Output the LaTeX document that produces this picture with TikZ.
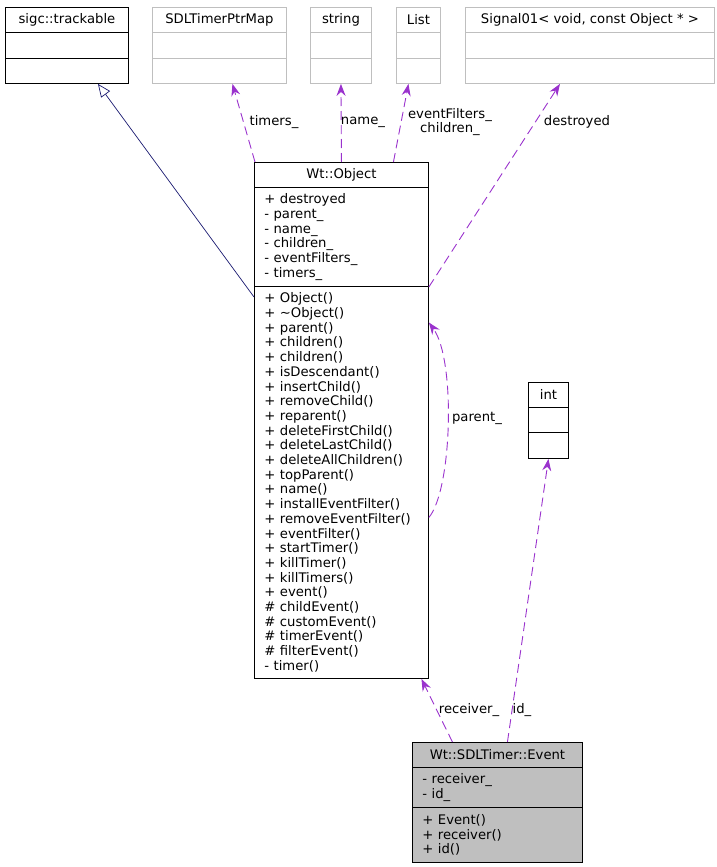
\documentclass[tikz,border=0pt]{standalone}
\usepackage{fontspec}
\setmainfont{DejaVu Sans}
\usetikzlibrary{arrows.meta}
\definecolor{usepurple}{HTML}{9A32CD}
\definecolor{basenavy}{HTML}{191970}
\definecolor{boxgray}{HTML}{BFBFBF}
\newcommand{\umlfont}{\fontsize{13.2}{14.7}\selectfont}

\begin{document}
\begin{tikzpicture}[x=1pt,y=-1pt,line width=0.9pt,
    every node/.style={font=\umlfont,inner sep=0pt},
    part/.style={draw,rectangle,anchor=north west,minimum width=#1},
    title/.style={part=#1,minimum height=25},
    members/.style={align=left,text width=#1,inner xsep=10pt},
    lbl/.style={anchor=center},
    use/.style={usepurple,dash pattern=on 9pt off 5pt,-{Stealth[length=12pt,width=9pt,inset=4pt]}},
    inherit/.style={basenavy,line width=0.7pt,-{Triangle[open,length=13pt,width=11pt,fill=white]}}]
    \useasboundingbox (0,0) rectangle (717,867);

    \node (trackable)     at (5,7)    [title=123] {sigc::trackable};
    \node (trackableattr) at (5,32)   [part=123,minimum height=26] {};
    \node (trackableops)  at (5,58)   [part=123,minimum height=25] {};

    \node (ptrmap)        at (152,7)  [title=134,draw=boxgray] {SDLTimerPtrMap};
    \node (ptrmapattr)    at (152,32) [part=134,minimum height=26,draw=boxgray] {};
    \node (ptrmapops)     at (152,58) [part=134,minimum height=25,draw=boxgray] {};

    \node (string)        at (310,7)  [title=61,draw=boxgray] {string};
    \node (stringattr)    at (310,32) [part=61,minimum height=26,draw=boxgray] {};
    \node (stringops)     at (310,58) [part=61,minimum height=25,draw=boxgray] {};

    \node (list)          at (396,7)  [title=44,draw=boxgray] {List};
    \node (listattr)      at (396,32) [part=44,minimum height=26,draw=boxgray] {};
    \node (listops)       at (396,58) [part=44,minimum height=25,draw=boxgray] {};

    \node (signal)        at (465,7)  [title=249,draw=boxgray] {Signal01< void, const Object * >};
    \node (signalattr)    at (465,32) [part=249,minimum height=26,draw=boxgray] {};
    \node (signalops)     at (465,58) [part=249,minimum height=25,draw=boxgray] {};

    \node (int)           at (528,382) [title=40] {int};
    \node (intattr)       at (528,407) [part=40,minimum height=25] {};
    \node (intops)        at (528,432) [part=40,minimum height=26] {};

    \node (object)        at (254,162) [title=174] {Wt::Object};
    \node (objectattr)    at (254,187) [part=174,minimum height=99,members=154]
        {+ destroyed\\- parent\_\\- name\_\\- children\_\\- eventFilters\_\\- timers\_};
    \node (objectops)     at (254,286) [part=174,minimum height=392,members=154]
        {+ Object()\\+ \textasciitilde Object()\\+ parent()\\+ children()\\+ children()\\
         + isDescendant()\\+ insertChild()\\+ removeChild()\\+ reparent()\\
         + deleteFirstChild()\\+ deleteLastChild()\\+ deleteAllChildren()\\
         + topParent()\\+ name()\\+ installEventFilter()\\+ removeEventFilter()\\
         + eventFilter()\\+ startTimer()\\+ killTimer()\\+ killTimers()\\+ event()\\
         \# childEvent()\\\# customEvent()\\\# timerEvent()\\\# filterEvent()\\- timer()};

    \node (event)         at (412,742) [title=170,fill=boxgray] {Wt::SDLTimer::Event};
    \node (eventattr)     at (412,767) [part=170,minimum height=40,members=150,fill=boxgray]
        {- receiver\_\\- id\_};
    \node (eventops)      at (412,807) [part=170,minimum height=55,members=150,fill=boxgray]
        {+ Event()\\+ receiver()\\+ id()};

    \draw[inherit] ([yshift=-11pt]objectops.north west) to ([xshift=31pt]trackableops.south);
    \draw[use]     ([xshift=1pt]object.north west) to ([xshift=13pt]ptrmapops.south);
    \draw[use]     (object.north) to (stringops.south);
    \draw[use]     ([xshift=52pt]object.north) to ([xshift=-10pt]listops.south);
    \draw[use]     (objectattr.south east) to ([xshift=-30pt]signalops.south);
    \draw[use]     ([yshift=-35pt]objectops.east) .. controls (452,490) and (456,360) .. ([yshift=160pt]objectops.east);
    \draw[use]     ([xshift=-45pt]event.north) to ([xshift=80pt]objectops.south);
    \draw[use]     ([xshift=10pt]event.north) to (intops.south);

    \node (timerslabel)   at (274,122) [lbl] {timers\_};
    \node (namelabel)     at (363,122) [lbl] {name\_};
    \node (childlabel)    at (450,122) [lbl,align=center] {eventFilters\_\\children\_};
    \node (destroylabel)  at (577,122) [lbl] {destroyed};
    \node (parentlabel)   at (477,418) [lbl] {parent\_};
    \node (receiverlabel) at (469,710) [lbl] {receiver\_};
    \node (idlabel)       at (522,710) [lbl] {id\_};
\end{tikzpicture}
\end{document}
